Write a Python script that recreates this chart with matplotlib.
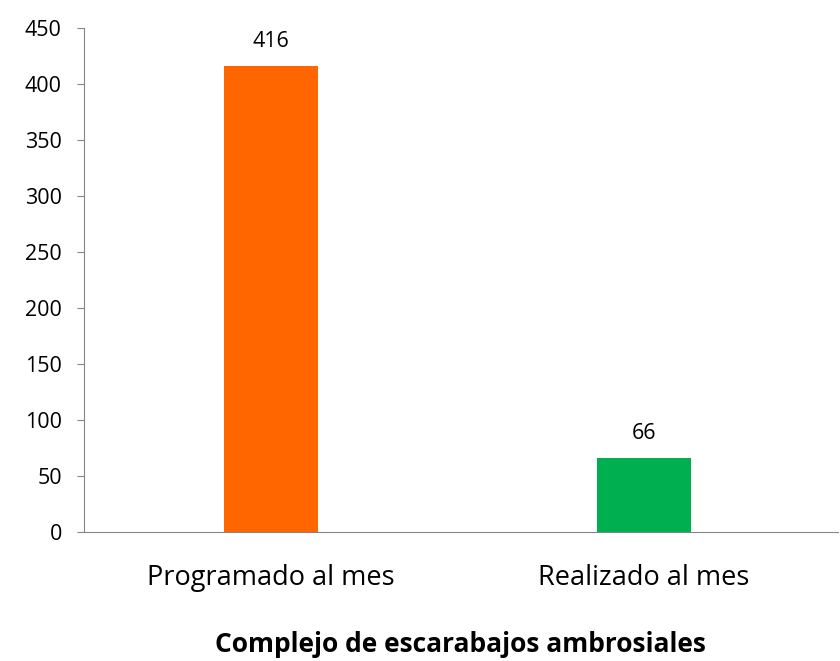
import matplotlib.pyplot as plt

plt.rcParams['font.family'] = ['Open Sans', 'DejaVu Sans']

categories = ["Programado al mes", "Realizado al mes"]
values = [416, 66]
colors = ["#FF6600", "#00B050"]
yticks = [0, 50, 100, 150, 200, 250, 300, 350, 400, 450]

fig = plt.figure(figsize=(8.4, 6.61), dpi=100)
ax = fig.add_axes([84/840, 1 - 532/661, 754/840, 504/661])

x = range(len(categories))
bars = ax.bar(x, values, width=0.252, color=colors)
for b, v in zip(bars, values):
    ax.text(b.get_x() + b.get_width()/2, v + 13, str(v), ha="center", va="bottom", fontsize=15.5)

ax.set_xlim(-0.501, 1.52)
ax.set_ylim(0, 450)
ax.set_yticks(yticks)
ax.set_xticks(list(x))
ax.set_xticklabels(categories, fontsize=19.5)
ax.tick_params(axis="y", labelsize=15.5, length=5, color="#868686", pad=11)
ax.tick_params(axis="x", length=0, pad=23)
for s in ["top", "right"]:
    ax.spines[s].set_visible(False)
for s in ["left", "bottom"]:
    ax.spines[s].set_color("#868686")

fig.text(460/840, 1 - 645/661, "Complejo de escarabajos ambrosiales", ha="center", va="center",
         fontsize=19, fontweight="bold")

fig.savefig("out.png", dpi=100)
